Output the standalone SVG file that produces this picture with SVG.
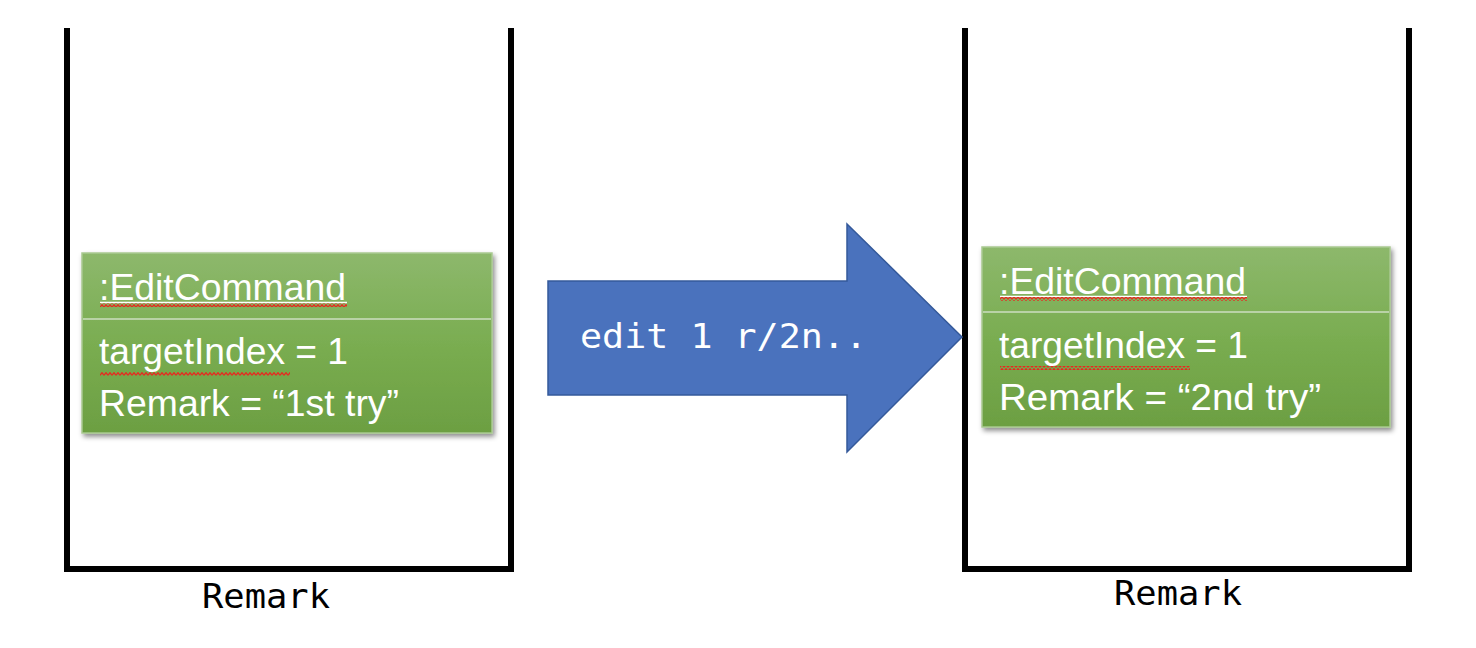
<svg xmlns="http://www.w3.org/2000/svg" width="1476" height="648" viewBox="0 0 1476 648">
  <defs>
    <linearGradient id="boxFill" x1="0" y1="0" x2="0" y2="1">
      <stop offset="0" stop-color="#8db86c"/>
      <stop offset="0.5" stop-color="#7aad51"/>
      <stop offset="1" stop-color="#6c9f42"/>
    </linearGradient>
    <filter id="shadow" x="-5%" y="-5%" width="115%" height="125%">
      <feDropShadow dx="2" dy="3" stdDeviation="2.5" flood-color="#000" flood-opacity="0.45"/>
    </filter>
    <pattern id="squiggle" x="0" y="0" width="4" height="4" patternUnits="userSpaceOnUse">
      <polyline points="0,3.3 2,0.7 4,3.3" fill="none" stroke="#e8281f" stroke-width="1.3"/>
    </pattern>
    <style>
      .frame { fill: none; stroke: #000; stroke-width: 6; stroke-linejoin: miter; }
      .box { fill: url(#boxFill); stroke: #a9c991; stroke-width: 1.5; filter: url(#shadow); }
      .divider { stroke: #b9d2a6; stroke-width: 2; }
      .obj { font-family: "Liberation Sans", Arial, sans-serif; font-size: 37px; fill: #fff; }
      .ul { stroke: #fff; stroke-width: 1.5; }
      .mono { font-family: "DejaVu Sans Mono", "Liberation Mono", monospace; }
      .label { font-size: 34px; fill: #000; }
      .cmd { font-size: 34px; fill: #fff; }
    </style>
  </defs>

  <rect width="1476" height="648" fill="#fff"/>

  <!-- left container -->
  <g id="remark-before">
    <path class="frame" d="M67,28 V569 H511 V28"/>
    <text class="mono label" x="202" y="608" textLength="128" lengthAdjust="spacingAndGlyphs">Remark</text>
  </g>

  <!-- left object -->
  <g id="edit-command-before">
    <rect class="box" x="82" y="253" width="410" height="180"/>
    <line class="divider" x1="83" y1="319" x2="491" y2="319"/>
    <text class="obj" x="99" y="300" textLength="247" lengthAdjust="spacingAndGlyphs">:EditCommand</text>
    <line class="ul" x1="100" y1="302.5" x2="347" y2="302.5"/>
    <rect x="100" y="303" width="247" height="4" fill="url(#squiggle)"/>
    <text class="obj" x="99" y="364" textLength="249" lengthAdjust="spacingAndGlyphs">targetIndex = 1</text>
    <rect x="100" y="372" width="190" height="4" fill="url(#squiggle)"/>
    <text class="obj" x="99" y="416" textLength="300" lengthAdjust="spacingAndGlyphs">Remark = “1st try”</text>
  </g>

  <!-- right container -->
  <g id="remark-after">
    <path class="frame" d="M965,28 V569 H1409 V28"/>
    <text class="mono label" x="1114" y="605" textLength="128" lengthAdjust="spacingAndGlyphs">Remark</text>
  </g>

  <!-- right object -->
  <g id="edit-command-after">
    <rect class="box" x="982" y="247" width="408" height="180"/>
    <line class="divider" x1="983" y1="312" x2="1389" y2="312"/>
    <text class="obj" x="999" y="294" textLength="247" lengthAdjust="spacingAndGlyphs">:EditCommand</text>
    <line class="ul" x1="1000" y1="296.5" x2="1247" y2="296.5"/>
    <rect x="1000" y="297" width="247" height="4" fill="url(#squiggle)"/>
    <text class="obj" x="999" y="358" textLength="249" lengthAdjust="spacingAndGlyphs">targetIndex = 1</text>
    <rect x="1000" y="366" width="190" height="4" fill="url(#squiggle)"/>
    <text class="obj" x="999" y="410" textLength="322" lengthAdjust="spacingAndGlyphs">Remark = “2nd try”</text>
  </g>

  <!-- transition arrow -->
  <g id="connectors">
    <g id="edit-arrow">
      <polygon points="548,281 847,281 847,224 962,337 847,452 847,395 548,395" fill="#4a72bd" stroke="#34599a" stroke-width="1.5"/>
      <text class="mono cmd" x="580" y="348" textLength="287" lengthAdjust="spacingAndGlyphs">edit 1 r/2n..</text>
    </g>
  </g>
</svg>
